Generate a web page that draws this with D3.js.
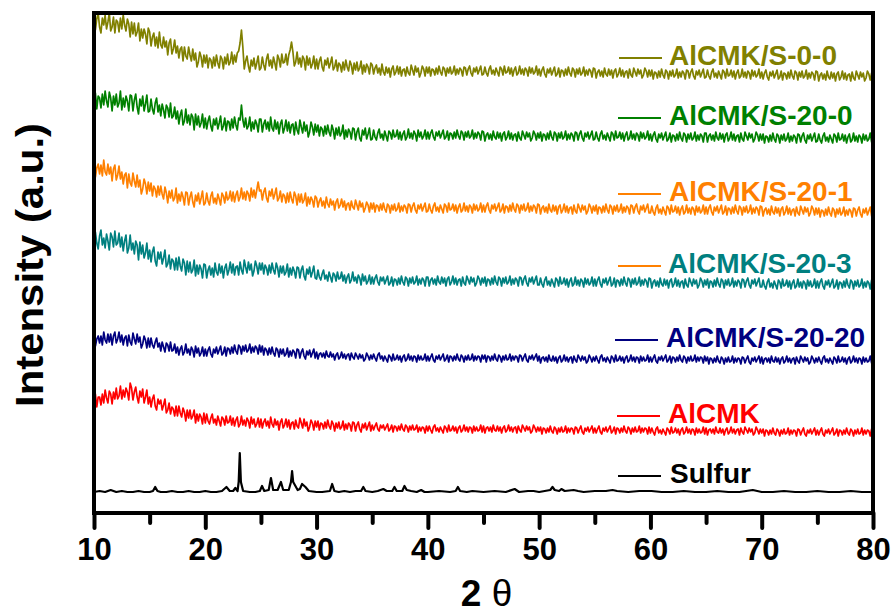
<!DOCTYPE html>
<html>
<head>
<meta charset="utf-8">
<script src="https://cdn.jsdelivr.net/npm/d3@7"></script>
<style>
  html, body { margin: 0; padding: 0; background: #ffffff; }
  svg { display: block; }
</style>
</head>
<body>
<svg id="chart" width="896" height="616"></svg>
<script>
// XRD patterns, 2θ from 10° to 80° sampled every 0.125°, stacked intensities (a.u.)
const thetaMin = 10;
const thetaMax = 80;

const seriesLabels = ["AlCMK/S-0-0", "AlCMK/S-20-0", "AlCMK/S-20-1", "AlCMK/S-20-3", "AlCMK/S-20-20", "AlCMK", "Sulfur"];

const curveS00 = [
  497,483,494,500,486,480,495,488,498,484,491,500,482,486,496,480,493,491,481,495,484,498,488,482,494,489,476,491,479,490,477,481,490,472,484,475,484,479,469,485,
  481,467,476,480,467,476,465,481,468,465,476,466,472,458,470,474,459,464,473,460,467,455,464,466,452,466,457,454,466,458,452,464,453,460,446,451,461,456,446,458,
  450,458,445,455,453,445,456,447,458,450,445,457,454,444,456,449,459,448,451,461,449,458,451,460,462,470,483,466,444,452,457,447,441,453,447,455,444,450,457,443,
  445,456,448,443,454,459,447,453,445,456,450,443,458,454,446,459,450,451,459,448,458,463,471,461,447,451,461,449,455,446,457,454,443,457,448,455,445,449,457,444,
  454,444,452,456,446,442,453,448,455,445,450,456,443,446,453,442,450,448,441,451,443,453,446,442,452,448,439,450,443,451,442,445,452,439,448,441,449,446,439,450,
  448,439,445,448,440,445,438,449,441,438,446,440,445,436,444,447,438,441,447,439,446,437,443,444,437,446,440,438,448,443,438,447,441,445,436,440,447,444,437,446,
  440,446,437,444,443,438,445,439,447,441,438,446,444,437,445,440,446,439,441,447,438,444,439,445,443,437,446,445,438,444,447,440,437,445,441,446,439,443,447,438,
  439,446,440,437,444,447,439,443,438,445,441,437,446,444,438,447,440,441,446,439,445,437,443,446,438,440,447,439,444,438,445,443,437,446,440,445,439,441,447,438,
  444,437,443,446,439,436,444,440,445,438,442,446,437,439,445,436,443,442,437,444,438,446,440,437,445,443,436,444,439,445,438,440,446,437,443,438,444,442,436,445,
  444,435,441,443,437,442,436,445,439,437,444,438,443,435,442,444,436,439,445,437,443,436,441,442,435,444,438,436,445,441,437,444,439,443,435,438,445,442,436,443,
  437,443,434,441,440,435,442,436,444,438,435,443,441,434,442,437,443,436,438,444,435,441,436,442,440,434,443,442,435,441,444,437,434,442,438,443,436,440,444,435,
  436,443,437,434,441,444,436,440,435,442,438,434,443,441,435,444,437,438,443,436,442,434,440,443,435,437,444,436,441,435,442,440,434,443,437,442,436,438,444,435,
  441,434,440,443,436,433,441,437,442,435,439,443,434,436,442,433,440,439,434,441,435,443,437,434,442,440,433,441,436,442,435,437,443,434,440,435,441,439,433,442,
  441,432,438,440,434,439,433,442,436,434,441,435,440,432,439,441,433,436,442,434,440,433,438,439,432,441,435,433,442,438,434,441,436,440,432,435,442,439,433,440,
  436
];

const curveS200 = [
  410,420,404,417,415,405,419,408,422,412,406,421,415,402,417,408,419,406,410,422,403,415,406,417,412,402,418,417,402,413,419,406,399,414,407,417,402,409,418,401,
  402,414,404,399,410,415,401,408,397,409,403,395,408,405,396,410,395,397,406,394,402,389,398,403,388,392,404,390,398,388,399,396,383,399,388,397,386,390,399,385,
  395,384,392,397,387,382,394,388,395,384,390,397,383,387,395,382,392,391,383,394,385,396,388,383,395,393,408,393,386,395,384,387,396,382,391,384,393,389,381,394,
  394,381,389,393,384,391,382,396,385,382,393,384,391,379,389,393,380,385,393,382,391,380,388,389,378,391,383,379,393,386,380,391,382,388,376,381,391,386,378,389,
  381,388,377,386,384,377,387,379,388,381,377,388,383,374,385,378,386,377,380,388,374,383,376,384,381,374,385,384,373,381,385,375,372,383,378,385,374,379,385,373,
  374,383,376,373,380,384,375,379,373,382,377,372,382,380,374,383,376,377,383,374,381,373,379,382,373,376,384,375,380,374,382,379,372,383,376,381,374,377,383,374,
  381,374,380,383,376,373,381,377,382,375,379,383,374,376,382,373,380,379,374,381,375,383,377,374,382,380,373,381,376,382,375,377,383,374,380,375,381,379,373,382,
  381,372,378,380,374,379,373,382,376,374,381,375,380,372,379,381,373,376,382,374,380,373,378,379,372,381,375,373,382,378,374,381,376,380,372,375,382,379,373,380,
  375,381,372,379,378,373,380,374,382,376,373,381,379,372,380,375,381,374,376,382,373,379,374,380,378,372,381,380,373,379,382,375,372,380,376,381,374,378,382,373,
  374,381,375,372,379,382,374,378,373,380,376,372,381,379,373,382,375,376,381,374,380,372,378,381,373,375,382,374,379,373,380,378,372,381,375,380,374,376,382,373,
  379,372,378,381,374,371,379,375,380,373,377,381,372,374,380,371,378,377,372,379,373,381,375,372,380,378,371,379,374,380,373,375,381,372,378,373,379,377,371,380,
  380,371,377,379,373,378,372,381,375,373,380,374,379,371,378,380,372,375,381,373,379,372,377,378,371,380,374,372,381,377,373,380,375,379,371,374,381,378,372,379,
  373,379,370,377,376,371,378,372,380,374,371,379,377,370,378,373,379,372,374,380,371,377,372,378,376,370,379,378,371,377,380,373,370,378,374,379,372,376,380,371,
  372,379,373,370,377,380,372,376,371,378,374,370,379,377,371,380,373,374,379,372,378,370,376,379,371,373,380,372,377,371,378,376,370,379,373,378,372,374,380,371,
  375
];

const curveS201 = [
  350,336,345,349,339,348,337,353,341,338,349,339,346,332,344,348,333,338,347,334,341,329,338,340,325,339,330,327,340,332,326,338,326,333,319,324,334,329,319,331,
  322,330,317,327,324,316,327,318,327,319,314,326,320,310,322,315,323,312,315,325,310,319,312,321,316,308,321,320,308,316,321,311,306,318,312,320,309,315,322,308,
  310,320,312,308,317,321,310,315,309,319,314,308,320,317,310,321,313,315,322,312,321,311,318,322,312,316,325,314,321,313,322,319,312,325,316,323,315,323,331,322,
  323,313,321,325,315,311,322,317,324,314,319,325,312,315,322,311,319,317,310,320,311,321,314,310,321,317,308,319,311,319,310,313,320,307,316,309,316,313,306,317,
  315,306,312,315,307,312,305,316,309,306,314,308,312,303,311,314,305,308,314,306,312,303,309,310,303,312,306,304,313,308,303,312,306,310,301,305,311,308,301,310,
  304,310,301,308,307,302,309,303,310,304,301,309,307,300,308,303,309,302,304,310,301,307,302,308,306,300,309,308,301,307,310,303,300,308,304,309,302,306,310,301,
  302,309,303,300,307,310,302,306,301,308,304,300,309,307,301,310,303,304,309,302,308,300,306,309,301,303,310,302,307,301,308,306,300,309,303,308,302,304,310,301,
  308,301,307,310,303,300,308,304,309,302,306,310,301,303,309,300,307,306,301,308,302,310,304,301,309,307,300,308,303,309,302,304,310,301,307,302,308,306,300,309,
  308,299,305,307,301,306,300,309,303,301,308,302,307,299,306,308,300,303,309,301,307,300,305,306,299,308,302,300,309,305,301,308,303,307,299,302,309,306,300,307,
  302,308,299,306,305,300,307,301,309,303,300,308,306,299,307,302,308,301,303,309,300,306,301,307,305,299,308,307,300,306,309,302,299,307,303,308,301,305,309,300,
  300,307,301,298,305,308,300,304,299,306,302,298,307,305,299,308,301,302,307,300,306,298,304,307,299,301,308,300,305,299,306,304,298,307,301,306,300,302,308,299,
  306,299,305,308,301,298,306,302,307,300,304,308,299,301,307,298,305,304,299,306,300,308,302,299,307,305,298,306,301,307,300,302,308,299,305,300,306,304,298,307,
  306,297,303,305,299,304,298,307,301,299,306,300,305,297,304,306,298,301,307,299,305,298,303,304,297,306,300,298,307,303,299,306,301,305,297,300,307,304,298,305,
  299,305,296,303,302,297,304,298,306,300,297,305,303,296,304,299,305,298,300,306,297,303,298,304,302,296,305,304,297,303,306,299,296,304,300,305,298,302,306,297,
  301
];

const curveS203 = [
  267,281,270,264,277,283,268,275,265,279,272,263,280,276,266,282,268,270,280,266,276,262,272,278,260,265,278,263,270,259,272,268,253,271,259,268,255,260,270,254,
  263,251,261,266,252,247,261,254,261,249,255,263,246,249,258,244,254,252,243,255,243,256,247,242,254,250,238,252,241,251,240,243,253,237,248,239,248,244,235,249,
  248,235,243,247,238,245,236,250,241,238,249,240,247,235,245,249,238,243,251,240,249,238,246,247,238,251,243,239,253,246,240,251,243,249,237,242,252,247,239,250,
  243,250,239,248,245,238,248,240,250,243,239,250,245,236,247,240,247,238,241,249,236,245,238,246,242,235,246,245,235,243,247,237,233,244,239,246,236,241,247,235,
  234,243,236,233,239,243,234,238,232,241,236,231,240,238,232,241,234,235,241,232,238,230,236,239,230,233,241,232,236,230,238,235,228,239,232,237,229,232,238,229,
  236,229,235,238,231,228,236,232,236,229,233,237,228,230,236,227,234,233,228,235,229,237,231,228,236,234,227,235,230,236,229,231,237,228,234,229,235,233,227,236,
  236,227,233,235,229,234,228,237,231,229,236,230,235,227,234,236,228,231,237,229,235,228,233,234,227,236,230,228,237,233,229,236,231,235,227,230,237,234,228,235,
  230,236,227,234,233,228,235,229,237,231,228,236,234,227,235,230,236,229,231,237,228,234,229,235,233,227,236,235,228,234,237,230,227,235,231,236,229,233,237,228,
  228,235,229,226,233,236,228,232,227,234,230,226,235,233,227,236,229,230,235,228,234,226,232,235,227,229,236,228,233,227,234,232,226,235,229,234,228,230,236,227,
  234,227,233,236,229,226,234,230,235,228,232,236,227,229,235,226,233,232,227,234,228,236,230,227,235,233,226,234,229,235,228,230,236,227,233,228,234,232,226,235,
  234,225,231,233,227,232,226,235,229,227,234,228,233,225,232,234,226,229,235,227,233,226,231,232,225,234,228,226,235,231,227,234,229,233,225,228,235,232,226,233,
  228,234,225,232,231,226,233,227,235,229,226,234,232,225,233,228,234,227,229,235,226,232,227,233,231,225,234,233,226,232,235,228,225,233,229,234,227,231,235,226,
  226,233,227,224,231,234,226,230,225,232,228,224,233,231,225,234,227,228,233,226,232,224,230,233,225,227,234,226,231,225,232,230,224,233,227,232,226,228,234,225,
  232,225,231,234,227,224,232,228,233,226,230,234,225,227,233,224,231,230,225,232,226,234,228,225,233,231,224,232,227,233,226,228,234,225,231,226,232,230,224,233,
  228
];

const curveS2020 = [
  178,167,174,177,170,177,168,181,173,170,179,171,179,168,177,181,170,174,181,171,178,168,175,177,167,178,171,168,180,174,169,179,171,176,165,169,177,173,165,175,
  166,175,168,165,171,175,166,170,162,171,166,161,170,168,162,171,162,163,169,160,166,158,164,167,158,161,169,160,164,158,166,163,156,167,160,165,157,160,166,157,
  164,157,163,166,159,156,164,160,166,159,163,167,158,160,166,157,165,164,159,166,160,168,162,159,168,166,159,167,162,168,161,163,169,160,166,161,167,165,159,168,
  161,167,158,165,163,158,165,159,166,160,157,165,163,156,164,159,164,157,159,165,156,162,157,163,161,155,164,163,155,161,164,157,154,162,158,163,156,160,164,155,
  161,154,159,160,156,160,155,162,157,156,161,156,159,153,158,160,154,156,161,155,159,154,158,159,153,160,156,154,160,157,154,159,155,158,152,154,160,157,153,158,
  154,159,155,152,158,160,154,157,152,157,154,151,158,156,152,159,153,154,158,153,157,151,156,158,152,154,159,153,157,152,157,156,151,158,153,157,153,154,159,152,
  157,152,156,159,153,151,157,154,158,153,156,159,152,154,158,151,157,156,152,157,153,159,154,152,158,156,151,157,153,158,153,154,159,152,157,153,157,156,151,158,
  154,158,151,157,156,152,157,153,159,154,152,158,156,151,157,153,158,153,154,159,152,157,153,157,156,151,158,157,152,156,159,153,151,157,154,158,153,156,159,152,
  157,150,155,156,152,156,151,158,153,152,157,152,156,150,155,157,151,153,158,152,156,151,155,156,150,157,153,151,158,155,152,157,153,156,150,152,158,155,151,156,
  152,157,153,150,156,158,152,155,151,156,153,150,157,155,151,158,152,153,157,152,156,150,155,157,151,153,158,152,156,151,156,155,150,157,152,156,152,153,158,151,
  156,151,155,158,152,150,156,153,157,152,155,158,151,153,157,150,156,155,151,156,152,158,153,151,157,155,150,156,152,157,152,153,158,151,156,152,156,155,150,157,
  152,156,149,155,154,150,155,151,157,152,150,156,154,149,155,151,156,151,152,157,150,155,151,155,154,149,156,155,150,154,157,151,149,155,152,156,151,154,157,150,
  156,149,154,155,151,155,150,157,152,151,156,151,155,149,154,156,150,152,157,151,155,150,154,155,149,156,152,150,157,154,151,156,152,155,149,151,157,154,150,155,
  151,156,152,149,155,157,151,154,150,155,152,149,156,154,150,157,151,152,156,151,155,149,154,156,150,152,157,151,155,150,155,154,149,156,151,155,151,152,157,150,
  153
];

const curveAlCMK = [
  111,119,106,116,116,108,119,110,123,115,110,122,119,109,121,114,125,114,117,127,114,123,116,125,121,113,130,125,113,121,126,116,110,122,116,124,110,116,123,109,
  116,106,114,118,107,103,114,109,113,103,108,114,100,103,110,99,106,104,97,107,97,107,100,96,105,101,92,103,95,103,94,97,103,90,99,92,99,96,89,100,
  90,99,92,89,95,99,90,94,88,97,92,87,96,94,88,97,90,91,97,88,95,87,93,96,86,89,97,88,93,87,95,92,85,96,89,94,86,89,95,86,
  94,85,91,94,87,92,85,96,89,86,94,88,92,83,91,94,85,88,94,86,93,84,90,91,84,93,87,85,95,90,85,94,87,91,82,86,93,90,83,92,
  86,92,83,90,89,84,91,85,93,87,84,92,89,82,90,85,91,84,86,92,83,89,84,90,88,82,91,90,82,88,91,84,81,89,85,90,83,87,91,82,
  88,83,87,90,84,82,88,85,88,83,86,89,82,84,88,81,87,86,82,87,83,89,84,82,88,86,81,87,83,88,83,84,88,81,86,82,86,85,80,87,
  82,87,83,80,86,88,82,85,81,86,83,80,87,85,81,88,82,83,87,82,86,80,85,87,81,83,88,82,86,81,86,85,80,87,82,86,82,83,88,81,
  87,80,85,86,82,86,81,88,83,82,87,82,86,80,85,87,81,83,88,82,86,81,85,86,80,87,83,81,88,85,82,87,83,86,80,82,88,85,81,86,
  82,86,79,85,84,80,85,81,87,82,80,86,84,79,85,81,86,81,82,87,80,85,81,85,84,79,86,85,80,84,87,81,79,85,82,86,81,84,87,80,
  85,80,84,87,81,79,85,82,86,81,84,87,80,82,86,79,85,84,80,85,81,87,82,80,86,84,79,85,81,86,81,82,87,80,85,81,85,84,79,86,
  80,85,81,78,84,86,80,83,79,84,81,78,85,83,79,86,80,81,85,80,84,78,83,85,79,81,86,80,84,79,84,83,78,85,80,84,80,81,86,79,
  85,78,83,84,80,84,79,86,81,80,85,80,84,78,83,85,79,81,86,80,84,79,83,84,78,85,81,79,86,83,80,85,81,84,78,80,86,83,79,84,
  80,84,77,83,82,78,83,79,85,80,78,84,82,77,83,79,84,79,80,85,78,83,79,83,82,77,84,83,78,82,85,79,77,83,80,84,79,82,85,78,
  83,78,82,85,79,77,83,80,84,79,82,85,78,80,84,77,83,82,78,83,79,85,80,78,84,82,77,83,79,84,79,80,85,78,83,79,83,82,77,84,
  80
];

// Sulfur reference pattern: [2θ, intensity] pairs
const sulfurPattern = [
  [10,21],[10.5,22],[11,21],[11.5,23],[12,21],[12.5,22],[13,21],[13.5,21],[14,22],[14.5,21],
  [15,21],[15.3,22],[15.5,26],[15.7,22],[16,21],[16.5,21],[17,22],[17.5,21],[18,21],[18.5,22],
  [19,21],[19.5,21],[20,22],[20.5,21],[21,21],[21.5,22],[21.9,26],[22.2,22],[22.5,22],[22.7,25],
  [22.9,22],[23.0,31],[23.1,60],[23.2,31],[23.4,22],[24,21],[24.5,21],[24.9,22],[25.1,27],[25.3,22],
  [25.7,23],[25.9,35],[26.1,23],[26.5,23],[26.8,31],[27.0,23],[27.5,23],[27.7,31],[27.8,42],[27.9,31],
  [28.3,23],[28.5,24],[28.7,29],[29.0,26],[29.3,22],[30,21],[30.5,21],[31.2,22],[31.4,29],[31.6,22],
  [32,21],[32.5,22],[33,21],[33.5,22],[34.0,22],[34.2,26],[34.4,22],[35,21],[35.5,22],[36.0,24],
  [36.3,22],[36.8,22],[37.0,26],[37.2,22],[37.7,22],[37.9,27],[38.1,23],[38.5,22],[39,21],[39.4,23],
  [39.7,21],[40,21],[41,22],[42,21],[42.5,22],[42.7,26],[42.9,22],[43.5,21],[44,22],[45,21],
  [46,22],[47,21],[47.8,24],[48.2,21],[49,22],[49.5,22],[50,21],[50.5,22],[51,23],[51.2,26],
  [51.4,23],[51.8,22],[52.0,24],[52.3,22],[53.1,23],[53.5,22],[54,21],[55,22],[56,22],[56.6,23],
  [57,22],[58,21],[59,22],[60.1,22],[61,21],[62,21],[63,22],[64,21],[65,21],[66,22],
  [67,21],[68,21],[69.2,23],[70,21],[71,21],[72,22],[73,21],[74,21],[75,22],[76,21],
  [77,21],[78,22],[79,21],[80,21]
];

const majorTicks = [10, 20, 30, 40, 50, 60, 70, 80];
const minorTicks = [15, 25, 35, 45, 55, 65, 75];

// ---- drawing ----
const lineColors = ["#808000", "#008000", "#ff8000", "#008080", "#000080", "#ff0000", "#000000"];
const legendSwatchColors = ["#808000", "#008000", "#ff8000", "#ff8000", "#000080", "#ff0000", "#000000"];
const fontStack = "'Liberation Sans', Arial, Helvetica, sans-serif";

const svg = d3.select("#chart");
const plot = { left: 94, right: 873, top: 13, bottom: 513 };

const x = d3.scaleLinear().domain([thetaMin, thetaMax]).range([plot.left, plot.right]);
const y = d3.scaleLinear().domain([0, 500]).range([plot.bottom, plot.top]);

svg.append("defs").append("clipPath").attr("id", "plotClip")
  .append("rect")
  .attr("x", plot.left).attr("y", plot.top)
  .attr("width", plot.right - plot.left).attr("height", plot.bottom - plot.top);

const noisyCurves = [curveS00, curveS200, curveS201, curveS203, curveS2020, curveAlCMK];

const line = d3.line()
  .x(d => x(d[0]))
  .y(d => y(d[1]));

const gLines = svg.append("g").attr("clip-path", "url(#plotClip)");

// sulfur trace at the bottom
gLines.append("path")
  .datum(sulfurPattern)
  .attr("fill", "none")
  .attr("stroke", lineColors[6])
  .attr("stroke-width", 2.2)
  .attr("stroke-linejoin", "round")
  .attr("d", line);

// each sample sits on an even 2θ grid across 10°–80°
noisyCurves.forEach((vals, k) => {
  const step = (thetaMax - thetaMin) / (vals.length - 1);
  const pts = vals.map((v, i) => [thetaMin + i * step, v]);
  gLines.append("path")
    .datum(pts)
    .attr("fill", "none")
    .attr("stroke", lineColors[k])
    .attr("stroke-width", 1.7)
    .attr("stroke-linejoin", "round")
    .attr("d", line);
});

// frame
svg.append("rect")
  .attr("x", plot.left).attr("y", plot.top)
  .attr("width", plot.right - plot.left).attr("height", plot.bottom - plot.top)
  .attr("fill", "none")
  .attr("stroke", "#000")
  .attr("stroke-width", 4);

// bottom axis: labelled major ticks, unlabelled minor ticks
const axisMajor = d3.axisBottom(x).tickValues(majorTicks).tickSize(15).tickPadding(10).tickFormat(d3.format("d"));
const axisMinor = d3.axisBottom(x).tickValues(minorTicks).tickSize(10).tickFormat("");

const gMinor = svg.append("g").attr("transform", `translate(0,${plot.bottom})`).call(axisMinor);
const gMajor = svg.append("g").attr("transform", `translate(0,${plot.bottom})`).call(axisMajor);
[gMinor, gMajor].forEach(g => {
  g.select(".domain").remove();
  g.selectAll(".tick line").attr("stroke", "#000").attr("stroke-width", 4).attr("stroke-linecap", "round");
});
gMajor.selectAll(".tick text")
  .attr("fill", "#000")
  .style("font-family", fontStack)
  .style("font-weight", "bold")
  .style("font-size", "31px");

// axis titles
const xTitle = svg.append("text")
  .attr("x", (plot.left + plot.right) / 2 + 3)
  .attr("y", 606)
  .attr("text-anchor", "middle")
  .style("font-family", fontStack)
  .style("font-size", "37px")
  .attr("fill", "#000");
xTitle.append("tspan").style("font-weight", "bold").text("2 ");
xTitle.append("tspan").style("font-weight", "normal").text("θ");

svg.append("text")
  .attr("transform", `translate(43,265) rotate(-90)`)
  .attr("text-anchor", "middle")
  .attr("textLength", 284)
  .attr("lengthAdjust", "spacingAndGlyphs")
  .style("font-family", fontStack)
  .style("font-weight", "bold")
  .style("font-size", "39px")
  .attr("fill", "#000")
  .text("Intensity (a.u.)");

// trace labels with their line swatches
const legendBaselines = [65, 125, 201, 273, 347, 423, 483];
const legendTextX = [669, 669, 669, 668, 666, 668, 670];
const legendSwatchX = [619, 618, 618, 618, 615, 617, 618];

seriesLabels.forEach((label, k) => {
  const by = legendBaselines[k];
  svg.append("line")
    .attr("x1", legendSwatchX[k]).attr("x2", legendSwatchX[k] + 43)
    .attr("y1", by - 7).attr("y2", by - 7)
    .attr("stroke", legendSwatchColors[k])
    .attr("stroke-width", 2);
  svg.append("text")
    .attr("x", legendTextX[k]).attr("y", by)
    .style("font-family", fontStack)
    .style("font-weight", "bold")
    .style("font-size", "28px")
    .attr("fill", lineColors[k])
    .text(label);
});
</script>
</body>
</html>
